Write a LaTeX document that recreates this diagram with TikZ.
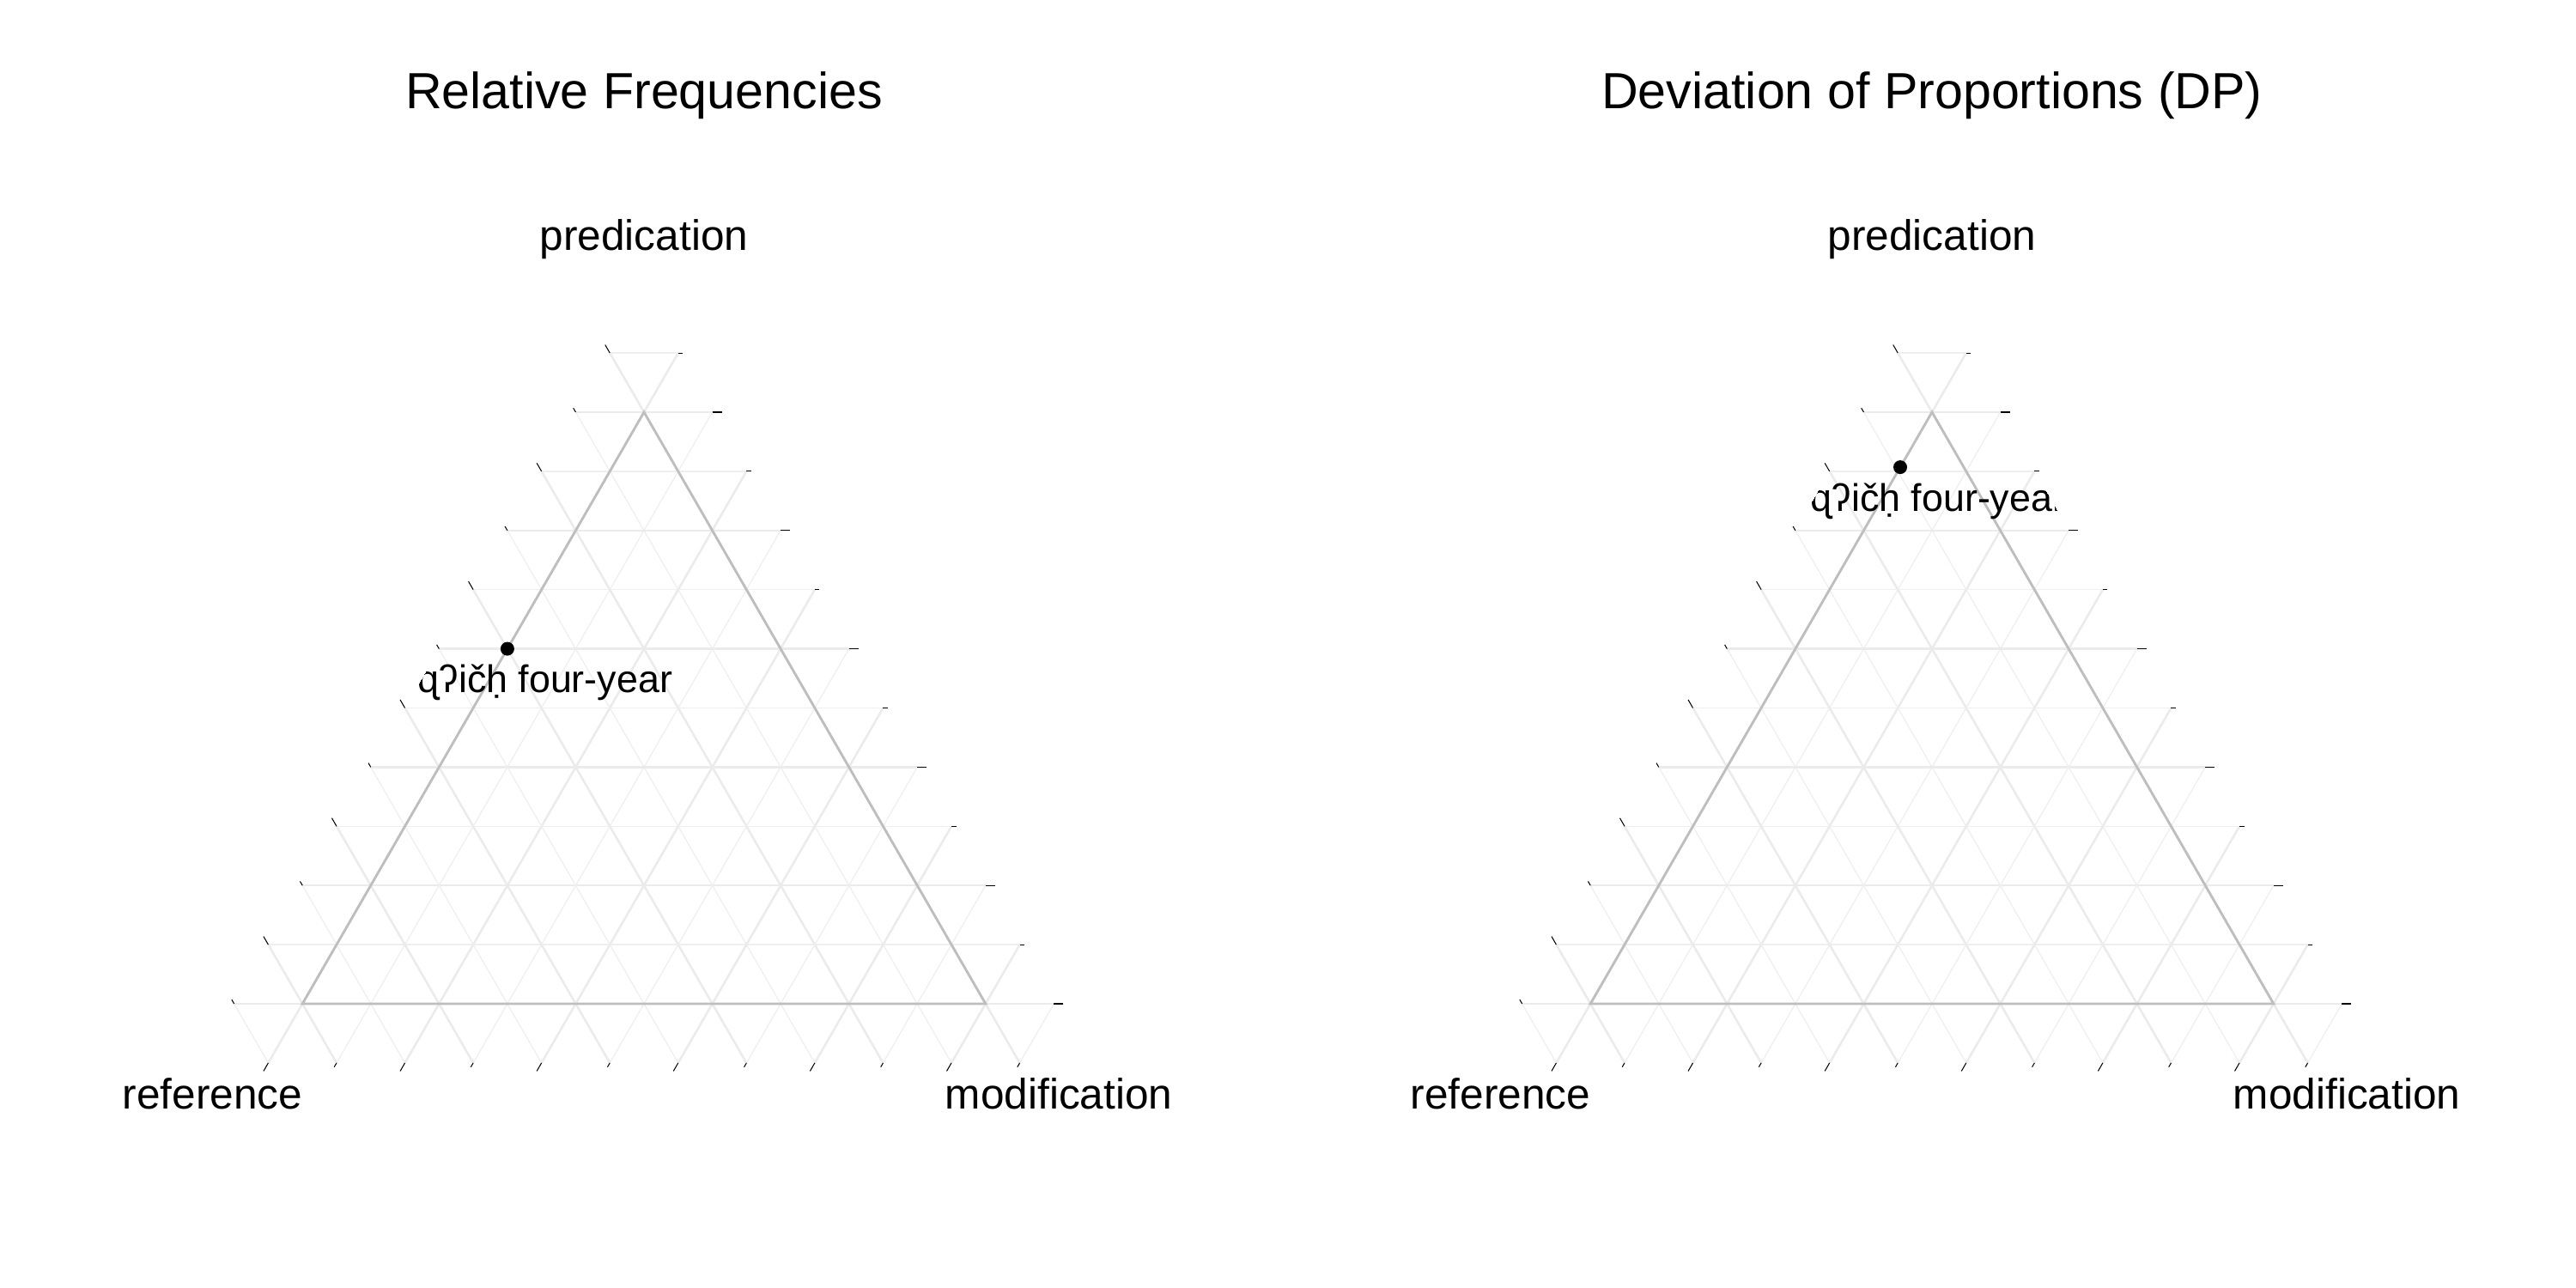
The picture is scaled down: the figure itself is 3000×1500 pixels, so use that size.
\documentclass[tikz,border=0pt]{standalone}
\usepackage{fontspec}
\setmainfont{Liberation Sans}
\usetikzlibrary{calc}
\definecolor{gridmaj}{HTML}{EBEBEB}
\definecolor{gridmin}{HTML}{EFEFEF}
\definecolor{borderc}{HTML}{BEBEBE}
\tikzset{
  gridmajor/.style={draw=gridmaj, line width=0.62pt},
  gridminor/.style={draw=gridmin, line width=0.32pt},
  tickmark/.style={draw=black, line width=0.25pt},
  tborder/.style={draw=borderc, line width=0.68pt, line join=miter},
  ttl/.style={font=\fontsize{14.2}{17}\selectfont, anchor=base, inner sep=0pt},
  axlab/.style={font=\fontsize{11.9}{14}\selectfont, inner sep=0pt},
  ptlab/.style={font=\fontsize{10.75}{13}\selectfont, anchor=base, inner sep=0pt},
  ptdot/.style={circle, fill=black, draw=none, inner sep=0pt, minimum size=3.84pt}
}
\newcommand\ternpanel[2]{%
  \coordinate (A#2) at (#1+750,480);
  \coordinate (L#2) at (#1+352.2,1169);
  \coordinate (R#2) at (#1+1147.8,1169);
  \foreach \i in {0,...,11}{
    \pgfmathsetmacro\v{\i/10}
    \pgfmathsetmacro\w{1.1-\v}
    \ifodd\i
      \tikzset{gridcur/.style={gridminor}}\def\tl{5.5}
    \else
      \tikzset{gridcur/.style={gridmajor}}\def\tl{11}
    \fi
    % constant predication (horizontal)
    \draw[gridcur] (barycentric cs:A#2=\v,L#2=\w,R#2=-0.1) -- (barycentric cs:A#2=\v,L#2=-0.1,R#2=\w);
    % constant modification
    \draw[gridcur] (barycentric cs:A#2=-0.1,L#2=\w,R#2=\v) -- (barycentric cs:A#2=\w,L#2=-0.1,R#2=\v);
    % constant reference
    \draw[gridcur] (barycentric cs:A#2=\w,L#2=\v,R#2=-0.1) -- (barycentric cs:A#2=-0.1,L#2=\v,R#2=\w);
  }
  \draw[tborder] (A#2) -- (L#2) -- (R#2) -- cycle;
  \foreach \i in {0,...,11}{
    \pgfmathsetmacro\v{\i/10}
    \pgfmathsetmacro\w{1.1-\v}
    \ifodd\i \def\tl{5.5}\else \def\tl{11}\fi
    \draw[tickmark] (barycentric cs:A#2=\v,L#2=-0.1,R#2=\w) -- ++(\tl,0);
    \draw[tickmark] (barycentric cs:A#2=-0.1,L#2=\w,R#2=\v) -- ++(-0.5*\tl,0.866*\tl);
    \draw[tickmark] (barycentric cs:A#2=\w,L#2=\v,R#2=-0.1) -- ++(-0.5*\tl,-0.866*\tl);
  }
  \node[axlab, anchor=base] (pred#2) at (#1+750,292) {predication};
  \node[axlab, anchor=base east] (ref#2) at (#1+353,1291.7) {reference};
  \node[axlab, anchor=base west] (mod#2) at (#1+1100,1291.7) {modification};
}
\begin{document}
\begin{tikzpicture}[x=0.24pt,y=-0.24pt]
\useasboundingbox (0,0) rectangle (3000,1500);
\ternpanel{0}{a}
\ternpanel{1500}{b}
\node[ttl] (titlea) at (750,126.7) {Relative Frequencies};
\node[ttl] (titleb) at (2250,126.7) {Deviation of Proportions (DP)};
% points
\node[ptdot] (pa) at (barycentric cs:Aa=0.6,La=0.4,Ra=0) {};
\node[ptdot] (pb) at (barycentric cs:Ab=0.907,Lb=0.093,Rb=0) {};
\begin{scope}
  \clip (barycentric cs:Aa=1.2,La=-0.1,Ra=-0.1) -- (barycentric cs:Aa=-0.1,La=1.2,Ra=-0.1) -- (barycentric cs:Aa=-0.1,La=-0.1,Ra=1.2) -- cycle;
  \node[ptlab] (la) at ($(pa)+(44,51)$) {ɋʔičḥ four-year};
\end{scope}
\begin{scope}
  \clip (barycentric cs:Ab=1.2,Lb=-0.1,Rb=-0.1) -- (barycentric cs:Ab=-0.1,Lb=1.2,Rb=-0.1) -- (barycentric cs:Ab=-0.1,Lb=-0.1,Rb=1.2) -- cycle;
  \node[ptlab] (lb) at ($(pb)+(44,51)$) {ɋʔičḥ four-year};
\end{scope}
\end{tikzpicture}
\end{document}
